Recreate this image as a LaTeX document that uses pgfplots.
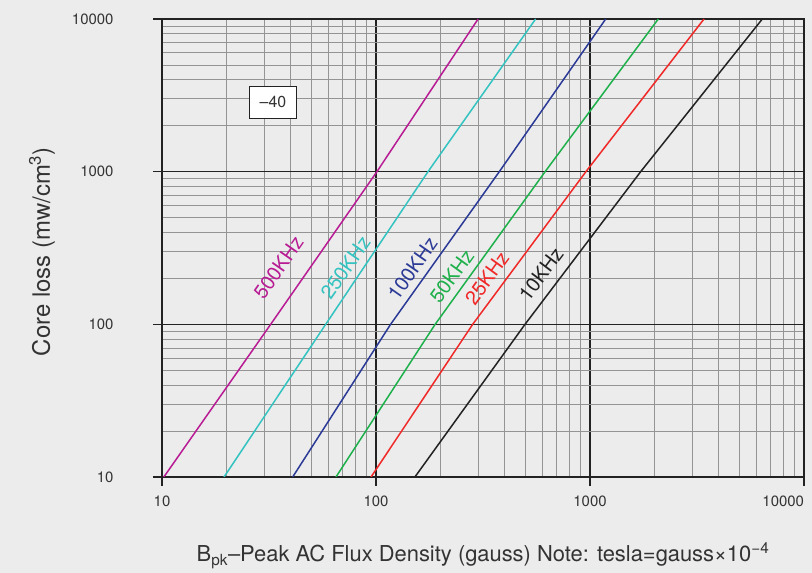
\documentclass[border=0pt]{standalone}
\usepackage{pgfplots}
\pgfplotsset{compat=1.18}
\usepackage{fontspec}
\setmainfont{TeX Gyre Heros}
\definecolor{bg}{HTML}{ECECEC}
\definecolor{cmag}{HTML}{B81C94}
\definecolor{ccyan}{HTML}{33C3C0}
\definecolor{cblue}{HTML}{2B3A96}
\definecolor{cgreen}{HTML}{1EB04A}
\definecolor{cred}{HTML}{F02828}
\definecolor{cblack}{HTML}{222222}
\definecolor{ctext}{HTML}{333333}
\begin{document}
\begin{tikzpicture}
\path[use as bounding box, fill=bg] (-162bp,-96bp) rectangle (650bp,477bp);
\begin{axis}[
  at={(0,0)}, anchor=south west,
  scale only axis, width=642bp, height=458bp,
  xmode=log, ymode=log,
  xmin=10, xmax=10000, ymin=10, ymax=10000,
  xtick={10,100,1000,10000}, xticklabels={10,100,1000,\makebox[0pt][r]{10000}},
  ytick={10,100,1000,10000}, yticklabels={10,100,1000,10000},
  minor xtick={20,30,40,50,60,70,80,90,200,300,400,500,600,700,800,900,2000,3000,4000,5000,6000,7000,8000,9000},
  minor ytick={20,30,40,50,60,70,80,90,200,300,400,500,600,700,800,900,2000,3000,4000,5000,6000,7000,8000,9000},
  grid=both,
  major grid style={cblack, line width=1.3bp},
  minor grid style={black!42, line width=0.9bp},
  tick pos=left,
  tick align=outside, major tick length=9bp, minor tick length=0bp,
  tick style={cblack, line width=1.3bp},
  axis line style={cblack, line width=1.3bp},
  ticklabel style={font=\fontsize{15}{17}\selectfont, text=ctext},
  yticklabel style={xshift=-36bp},
  xticklabel style={yshift=-6bp},
  xlabel={B\textsubscript{pk}–Peak AC Flux Density (gauss) Note: tesla=gauss×10\textsuperscript{−4}},
  ylabel={Core loss (mw/cm\textsuperscript{3})},
  every axis x label/.style={at={(axis description cs:0.5,-0.172)}, anchor=center, font=\fontsize{22}{25}\selectfont, text=ctext},
  every axis y label/.style={at={(axis description cs:-0.187,0.492)}, anchor=center, rotate=90, font=\fontsize{24}{27}\selectfont, text=ctext},
]
\addplot[cmag, line width=1.5bp] coordinates {(10.2,10) (32.2,100) (101,1000) (300,10000)};
\addplot[ccyan, line width=1.5bp] coordinates {(19.5,10) (58.2,100) (175,1000) (557,10000)};
\addplot[cblue, line width=1.5bp] coordinates {(40.8,10) (117,100) (377,1000) (1184,10000)};
\addplot[cgreen, line width=1.5bp] coordinates {(65,10) (189,100) (617,1000) (2085,10000)};
\addplot[cred, line width=1.5bp] coordinates {(94.8,10) (283,100) (957,1000) (3410,10000)};
\addplot[cblack, line width=1.5bp] coordinates {(152,10) (497,100) (1725,1000) (6385,10000)};
\node[rotate=55, text=cmag, font=\fontsize{20}{22}\selectfont] at (axis cs:35.0,236) {500KHz};
\node[rotate=55, text=ccyan, font=\fontsize{20}{22}\selectfont] at (axis cs:72.0,236) {250KHz};
\node[rotate=55, text=cblue, font=\fontsize{20}{22}\selectfont] at (axis cs:148,232) {100KHz};
\node[rotate=54, text=cgreen, font=\fontsize{20}{22}\selectfont] at (axis cs:226,207) {50KHz};
\node[rotate=54, text=cred, font=\fontsize{20}{22}\selectfont] at (axis cs:330,201) {25KHz};
\node[rotate=53, text=cblack, font=\fontsize{20}{22}\selectfont] at (axis cs:590,214) {10KHz};
\node[draw=cblack, fill=white, line width=0.8bp, minimum width=47bp, minimum height=32bp, inner sep=0pt, text=ctext, font=\fontsize{16}{18}\selectfont] at (axis cs:33,2858) {–40};
\end{axis}
\end{tikzpicture}
\end{document}
